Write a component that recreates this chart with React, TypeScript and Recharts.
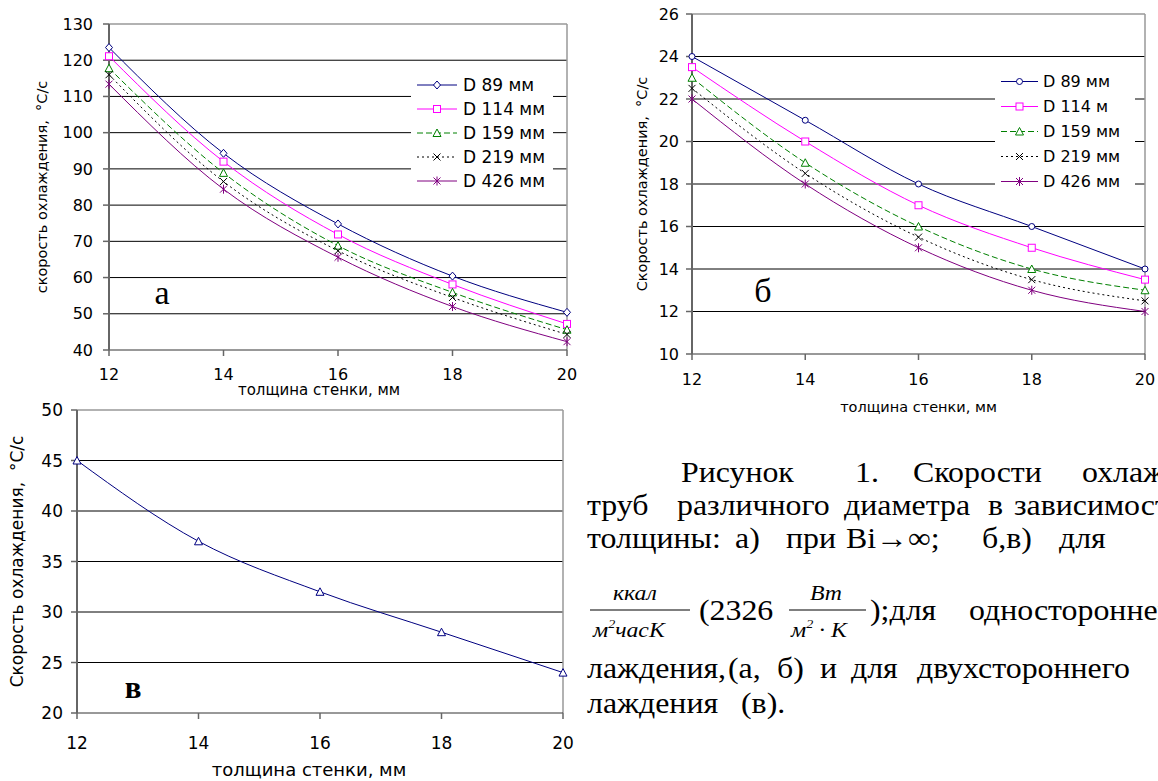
import React from 'react';
import { LineChart, Line, XAxis, YAxis, ReferenceLine, Legend } from 'recharts';

// wall thickness, mm
const thickness = [12, 14, 16, 18, 20];
const xTicks = [12, 14, 16, 18, 20];

// panel a (Bi -> inf)
const aD89 = [123.5, 94.3, 74.8, 60.4, 50.4];
const aD114 = [121.1, 92, 71.9, 58.1, 47.2];
const aD159 = [117.8, 88.9, 68.8, 55.9, 45.6];
const aD219 = [116, 86.5, 67.4, 54.5, 44.3];
const aD426 = [113.4, 84.4, 65.6, 52, 42.3];
const aTicks = [40, 50, 60, 70, 80, 90, 100, 110, 120, 130];

// panel b
const bD89 = [24, 21, 18, 16, 14];
const bD114 = [23.5, 20, 17, 15, 13.5];
const bD159 = [23, 19, 16, 14, 13];
const bD219 = [22.5, 18.5, 15.5, 13.5, 12.5];
const bD426 = [22, 18, 15, 13, 12];
const bTicks = [10, 12, 14, 16, 18, 20, 22, 24, 26];

// panel v (two-sided cooling)
const vRate = [45, 37, 32, 28, 24];
const vTicks = [20, 25, 30, 35, 40, 45, 50];

const keys = ['d89', 'd114', 'd159', 'd219', 'd426'];
const namesA = ['D 89 мм', 'D 114 мм', 'D 159 мм', 'D 219 мм', 'D 426 мм'];
const namesB = ['D 89 мм', 'D 114 м', 'D 159 мм', 'D 219 мм', 'D 426 мм'];
const colors = ['#000080', '#ff00ff', '#008000', '#000000', '#800080'];
const dashes = [undefined, undefined, '6 3', '2 3', undefined];
const markersA = ['diamond', 'square', 'triangle', 'cross', 'star'];
const markersB = ['circle', 'square', 'triangle', 'cross', 'star'];

const rowsA = thickness.map((x, i) => ({ x, d89: aD89[i], d114: aD114[i], d159: aD159[i], d219: aD219[i], d426: aD426[i] }));
const rowsB = thickness.map((x, i) => ({ x, d89: bD89[i], d114: bD114[i], d159: bD159[i], d219: bD219[i], d426: bD426[i] }));
const rowsV = thickness.map((x, i) => ({ x, rate: vRate[i] }));

const FONT = 'DejaVu Sans';
const SERIF = 'Liberation Serif';

function Marker({ shape, cx, cy, color }: any) {
  if (cx == null || cy == null) return null;
  const s = 3.5;
  const common = { stroke: color, strokeWidth: 1, strokeDasharray: 'none' };
  switch (shape) {
    case 'diamond':
      return <polygon points={`${cx},${cy - s - 0.5} ${cx + s},${cy} ${cx},${cy + s + 0.5} ${cx - s},${cy}`} fill="#fff" {...common} />;
    case 'circle':
      return <circle cx={cx} cy={cy} r={3} fill="#fff" {...common} />;
    case 'square':
      return <rect x={cx - s} y={cy - s} width={s * 2} height={s * 2} fill="#fff" {...common} />;
    case 'triangle':
      return <polygon points={`${cx},${cy - 4} ${cx + 4},${cy + 3.5} ${cx - 4},${cy + 3.5}`} fill="#fff" {...common} />;
    case 'cross':
      return <path d={`M${cx - s},${cy - s}L${cx + s},${cy + s}M${cx + s},${cy - s}L${cx - s},${cy + s}`} fill="none" {...common} />;
    case 'star':
      return <path d={`M${cx - s},${cy - s}L${cx + s},${cy + s}M${cx + s},${cy - s}L${cx - s},${cy + s}M${cx},${cy - s - 1}L${cx},${cy + s + 1}`} fill="none" {...common} />;
    default:
      return null;
  }
}

const xTitle = (text: string, size: number, dx: number) => (p: any) => {
  const vb = p && p.viewBox;
  if (!vb) return null;
  return (
    <text x={vb.x + vb.width / 2 + dx} y={vb.y + vb.height} textAnchor="middle" fontSize={size} fontFamily={FONT} fill="#000">
      {text}
    </text>
  );
};

const yTitle = (text: string, size: number, offset: number) => (p: any) => {
  const vb = p && p.viewBox;
  if (!vb) return null;
  const cx = vb.x + offset;
  const cy = vb.y + vb.height / 2;
  return (
    <text x={cx} y={cy} transform={`rotate(-90 ${cx} ${cy})`} textAnchor="middle" dominantBaseline="central" fontSize={size} fontFamily={FONT} fill="#000" style={{ whiteSpace: 'pre' }}>
      {text}
    </text>
  );
};

function makeLegend(markers: string[], rowH: number, sampleW: number, padLeft: number, gap: number, fontSize: number) {
  return (props: any) => {
    // keep the series order instead of the alphabetical one
    const payload = [...(props.payload || [])].sort((p: any, q: any) => keys.indexOf(p.dataKey) - keys.indexOf(q.dataKey));
    return (
      <div style={{ background: '#fff', paddingLeft: padLeft, fontFamily: FONT, fontSize, color: '#000' }}>
        {payload.map((entry: any, i: number) => {
          let idx = keys.indexOf(entry.dataKey);
          if (idx < 0) idx = i;
          return (
            <div key={`leg-${i}`} style={{ height: rowH, display: 'flex', alignItems: 'center' }}>
              <svg width={sampleW} height={rowH} style={{ display: 'block' }}>
                <line x1={0} x2={sampleW} y1={rowH / 2} y2={rowH / 2} stroke={colors[idx]} strokeWidth={1} strokeDasharray={dashes[idx]} />
                <Marker shape={markers[idx]} cx={sampleW / 2} cy={rowH / 2} color={colors[idx]} />
              </svg>
              <span style={{ marginLeft: gap, whiteSpace: 'nowrap', lineHeight: 1 }}>{entry.value}</span>
            </div>
          );
        })}
      </div>
    );
  };
}

const axisGrey = '#666';
const borderGrey = '#999';

function ChartA() {
  const grid = aTicks.slice(1, -1);
  return (
    <LineChart width={580} height={400} data={rowsA} margin={{ top: 24, right: 13, bottom: 5, left: 0 }}>
      {grid.map((v) => (
        <ReferenceLine key={`ga${v}`} y={v} stroke="#000" strokeWidth={1} />
      ))}
      <ReferenceLine y={130} stroke={borderGrey} strokeWidth={1.5} />
      <ReferenceLine x={20} stroke={borderGrey} strokeWidth={1.5} />
      <XAxis
        dataKey="x"
        type="number"
        domain={[12, 20]}
        ticks={xTicks}
        height={45}
        tickSize={6}
        tickMargin={13}
        axisLine={{ stroke: '#333', strokeWidth: 1 }}
        tickLine={{ stroke: axisGrey, strokeWidth: 1.5 }}
        tick={{ fontSize: 16, fill: '#000', fontFamily: FONT }}
        label={{ content: xTitle('толщина стенки, мм', 15, -19) }}
      />
      <YAxis
        type="number"
        domain={[40, 130]}
        ticks={aTicks}
        width={109}
        tickSize={6}
        tickMargin={10}
        axisLine={{ stroke: axisGrey, strokeWidth: 2 }}
        tickLine={{ stroke: axisGrey, strokeWidth: 1.5 }}
        tick={{ fontSize: 16, fill: '#000', fontFamily: FONT }}
        label={{ content: yTitle('скорость охлаждения,  °С/с', 14.5, 42) }}
      />
      {keys.map((k, i) => (
        <Line
          key={k}
          dataKey={k}
          name={namesA[i]}
          type="monotone"
          stroke={colors[i]}
          strokeWidth={1}
          strokeDasharray={dashes[i]}
          isAnimationActive={false}
          activeDot={false}
          dot={(p: any) => <Marker key={`${k}-${p.index}`} shape={markersA[i]} cx={p.cx} cy={p.cy} color={colors[i]} />}
        />
      ))}
      <Legend
        layout="vertical"
        align="center"
        verticalAlign="middle"
        wrapperStyle={{ left: 411, top: 73, width: 142, height: 120, background: '#fff' }}
        content={makeLegend(markersA, 24, 40, 6, 6, 17)}
      />
    </LineChart>
  );
}

function ChartB() {
  const grid = bTicks.slice(1, -1);
  return (
    <LineChart width={578} height={420} data={rowsB} margin={{ top: 14, right: 13, bottom: 8, left: 0 }}>
      {grid.map((v) => (
        <ReferenceLine key={`gb${v}`} y={v} stroke="#000" strokeWidth={1} />
      ))}
      <ReferenceLine y={26} stroke={borderGrey} strokeWidth={1.5} />
      <ReferenceLine x={20} stroke={borderGrey} strokeWidth={1.5} />
      <XAxis
        dataKey="x"
        type="number"
        domain={[12, 20]}
        ticks={xTicks}
        height={58}
        tickSize={6}
        tickMargin={14}
        axisLine={{ stroke: '#333', strokeWidth: 1 }}
        tickLine={{ stroke: axisGrey, strokeWidth: 1.5 }}
        tick={{ fontSize: 16, fill: '#000', fontFamily: FONT }}
        label={{ content: xTitle('толщина стенки, мм', 14.5, 0) }}
      />
      <YAxis
        type="number"
        domain={[10, 26]}
        ticks={bTicks}
        width={112}
        tickSize={6}
        tickMargin={7}
        axisLine={{ stroke: axisGrey, strokeWidth: 2 }}
        tickLine={{ stroke: axisGrey, strokeWidth: 1.5 }}
        tick={{ fontSize: 16, fill: '#000', fontFamily: FONT }}
        label={{ content: yTitle('Скорость охлаждения,  °С/с', 14.5, 62) }}
      />
      {keys.map((k, i) => (
        <Line
          key={k}
          dataKey={k}
          name={namesB[i]}
          type="monotone"
          stroke={colors[i]}
          strokeWidth={1}
          strokeDasharray={dashes[i]}
          isAnimationActive={false}
          activeDot={false}
          dot={(p: any) => <Marker key={`${k}-${p.index}`} shape={markersB[i]} cx={p.cx} cy={p.cy} color={colors[i]} />}
        />
      ))}
      <Legend
        layout="vertical"
        align="center"
        verticalAlign="middle"
        wrapperStyle={{ left: 415, top: 69, width: 140, height: 125, background: '#fff' }}
        content={makeLegend(markersB, 25, 37, 6, 5, 16)}
      />
    </LineChart>
  );
}

function ChartV() {
  const grid = vTicks.slice(1, -1);
  return (
    <LineChart width={580} height={381} data={rowsV} margin={{ top: 10, right: 17, bottom: 5, left: 0 }}>
      {grid.map((v) => (
        <ReferenceLine key={`gv${v}`} y={v} stroke="#000" strokeWidth={1} />
      ))}
      <ReferenceLine y={50} stroke={borderGrey} strokeWidth={1.5} />
      <ReferenceLine x={20} stroke={borderGrey} strokeWidth={1.5} />
      <XAxis
        dataKey="x"
        type="number"
        domain={[12, 20]}
        ticks={xTicks}
        height={63}
        tickSize={6}
        tickMargin={18}
        axisLine={{ stroke: '#333', strokeWidth: 1 }}
        tickLine={{ stroke: axisGrey, strokeWidth: 1.5 }}
        tick={{ fontSize: 17, fill: '#000', fontFamily: FONT }}
        label={{ content: xTitle('толщина стенки, мм', 18, -11) }}
      />
      <YAxis
        type="number"
        domain={[20, 50]}
        ticks={vTicks}
        width={77}
        tickSize={6}
        tickMargin={8}
        axisLine={{ stroke: axisGrey, strokeWidth: 2 }}
        tickLine={{ stroke: axisGrey, strokeWidth: 1.5 }}
        tick={{ fontSize: 17, fill: '#000', fontFamily: FONT }}
        label={{ content: yTitle('Скорость охлаждения,  °С/с', 17, 17) }}
      />
      <Line
        dataKey="rate"
        type="monotone"
        stroke="#000080"
        strokeWidth={1}
        isAnimationActive={false}
        activeDot={false}
        dot={(p: any) => <Marker key={`v-${p.index}`} shape="triangle" cx={p.cx} cy={p.cy} color="#000080" />}
      />
    </LineChart>
  );
}

const captionLines: { y: number; words: [string, number][] }[] = [
  { y: 482, words: [['Рисунок', 681], ['1.', 855], ['Скорости', 913], ['охлаждения', 1082]] },
  { y: 515, words: [['труб', 587], ['различного', 677], ['диаметра', 844], ['в', 988], ['зависимости', 1014]] },
  { y: 548, words: [['толщины:', 587], ['а)', 735], ['при', 786], ['Bi→∞;', 846], ['б,в)', 982], ['для', 1059]] },
  { y: 620, words: [['(2326', 699], [');для', 870], ['одностороннего', 969]] },
  { y: 678, words: [['лаждения,', 587], ['(а,', 728], ['б)', 777], ['и', 820], ['для', 851], ['двухстороннего', 917]] },
  { y: 713, words: [['лаждения', 587], ['(в).', 741]] },
];

function Caption() {
  const sx = 1.08;
  const fs = 29.5;
  const word = (t: string, x: number, y: number, size = fs, italic = false, k = '') => (
    <text key={k || `${t}-${x}-${y}`} transform={`translate(${x} ${y}) scale(${sx} 1)`} fontSize={size} fontFamily={SERIF} fontStyle={italic ? 'italic' : 'normal'} fill="#000">
      {t}
    </text>
  );
  return (
    <svg width={1158} height={781} style={{ position: 'absolute', left: 0, top: 0, pointerEvents: 'none' }}>
      {/* panel letters */}
      <text x={162} y={304} textAnchor="middle" fontSize={34} fontFamily={SERIF}>а</text>
      <text x={763} y={302} textAnchor="middle" fontSize={34} fontFamily={SERIF}>б</text>
      <text x={133} y={698} textAnchor="middle" fontSize={31} fontWeight="bold" fontFamily={SERIF}>в</text>

      {captionLines.map((ln) => ln.words.map(([t, x]) => word(t, x, ln.y)))}

      {/* kcal / (m2 h K) */}
      {word('ккал', 613, 600, 22, true, 'f1n')}
      <line x1={590} x2={690} y1={610} y2={610} stroke="#000" strokeWidth={1.2} />
      <text transform={`translate(593 637) scale(${sx} 1)`} fontSize={22} fontFamily={SERIF} fontStyle="italic">
        м<tspan dy={-9} fontSize={13}>2</tspan>
        <tspan dy={9}>часК</tspan>
      </text>

      {/* W / (m2 K) */}
      {word('Вт', 810, 600, 22, true, 'f2n')}
      <line x1={789} x2={866} y1={610} y2={610} stroke="#000" strokeWidth={1.2} />
      <text transform={`translate(791 637) scale(${sx} 1)`} fontSize={22} fontFamily={SERIF} fontStyle="italic">
        м<tspan dy={-9} fontSize={13}>2</tspan>
        <tspan dy={9}> · К</tspan>
      </text>
    </svg>
  );
}

export default function App() {
  return (
    <div style={{ position: 'absolute', left: 0, top: 0, width: 1158, height: 781, overflow: 'hidden', background: '#fff', fontFamily: FONT }}>
      <div style={{ position: 'absolute', left: 0, top: 0 }}>
        <ChartA />
      </div>
      <div style={{ position: 'absolute', left: 580, top: 0 }}>
        <ChartB />
      </div>
      <div style={{ position: 'absolute', left: 0, top: 400 }}>
        <ChartV />
      </div>
      <Caption />
    </div>
  );
}
